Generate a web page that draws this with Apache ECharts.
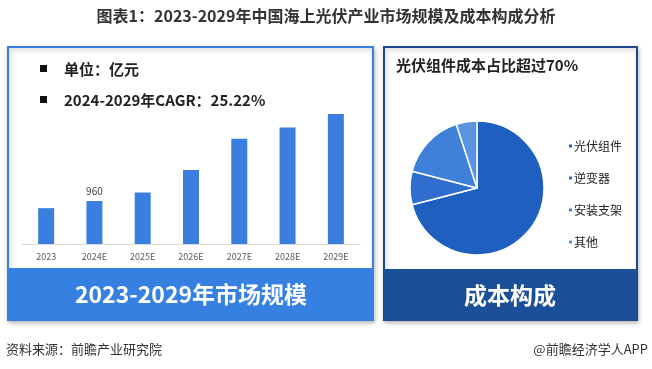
<!DOCTYPE html>
<html>
<head>
<meta charset="utf-8">
<script src="https://cdn.jsdelivr.net/npm/echarts@6/dist/echarts.min.js"></script>
<style>html,body{margin:0;padding:0;background:#fff;}#c{width:652px;height:369px;}</style>
</head>
<body>
<div id="c"></div>
<script>
var years = ['2023','2024E','2025E','2026E','2027E','2028E','2029E'];
var marketSize = [800, 960, 1150, 1650, 2350, 2600, 2900];
var labeledYear = '2024E';
var costNames = ['光伏组件','逆变器','安装支架','其他'];
var costShares = [71, 8, 16, 5];
var costColors = ['#1f5fbf','#2f6ecf','#3f80d9','#5b93e2'];

var FONT = '"Noto Sans CJK SC", "Noto Sans", sans-serif';
var chart = echarts.init(document.getElementById('c'), null, {renderer:'canvas'});

var barData = marketSize.map(function(v,i){
  return {value:v, label:{show: years[i]===labeledYear}};
});

chart.setOption({
  backgroundColor:'#fff',
  animation:false,
  textStyle:{fontFamily:FONT},
  graphic:[
    {type:'text', left:'center', top:8, style:{text:'图表1：2023-2029年中国海上光伏产业市场规模及成本构成分析', fontSize:16, fontWeight:'bold', fill:'#333', fontFamily:FONT}},
    // left panel
    {type:'rect', shape:{x:8,y:47,width:365,height:273}, style:{fill:'#fff', stroke:'#3b7fdc', lineWidth:2, shadowBlur:4, shadowColor:'rgba(0,0,0,0.25)', shadowOffsetX:1, shadowOffsetY:2}, z:-10},
    {type:'rect', shape:{x:8,y:268,width:365,height:52}, style:{fill:'#3580e0'}, z:-5},
    {type:'text', x:191, y:294, style:{text:'2023-2029年市场规模', fontSize:23, fontWeight:'bold', fill:'#fff', align:'center', verticalAlign:'middle', fontFamily:FONT}},
    {type:'rect', shape:{x:40,y:65,width:7,height:7}, style:{fill:'#111'}},
    {type:'text', x:64, y:69, style:{text:'单位：亿元', fontSize:15, fontWeight:'bold', fill:'#222', verticalAlign:'middle', fontFamily:FONT}},
    {type:'rect', shape:{x:40,y:96,width:7,height:7}, style:{fill:'#111'}},
    {type:'text', x:64, y:100, style:{text:'2024-2029年CAGR：25.22%', fontSize:15, fontWeight:'bold', fill:'#222', verticalAlign:'middle', fontFamily:FONT}},
    // right panel
    {type:'rect', shape:{x:384,y:47,width:253,height:273}, style:{fill:'#fff', stroke:'#1d4a8c', lineWidth:2, shadowBlur:4, shadowColor:'rgba(0,0,0,0.25)', shadowOffsetX:1, shadowOffsetY:2}, z:-10},
    {type:'rect', shape:{x:384,y:269,width:253,height:51}, style:{fill:'#1b4f97'}, z:-5},
    {type:'text', x:510, y:295, style:{text:'成本构成', fontSize:23, fontWeight:'bold', fill:'#fff', align:'center', verticalAlign:'middle', fontFamily:FONT}},
    {type:'text', x:396, y:65, style:{text:'光伏组件成本占比超过70%', fontSize:15, fontWeight:'bold', fill:'#222', verticalAlign:'middle', fontFamily:FONT}},
    // footer
    {type:'text', x:6, y:349, style:{text:'资料来源：前瞻产业研究院', fontSize:13, fill:'#333', verticalAlign:'middle', fontFamily:FONT}},
    {type:'text', x:648, y:349, style:{text:'@前瞻经济学人APP', fontSize:13, fill:'#333', align:'right', verticalAlign:'middle', fontFamily:FONT}}
  ],
  grid:{left:22, width:338, top:100, bottom:125},
  xAxis:{type:'category', data:years,
    axisLine:{lineStyle:{color:'#d9d9d9'}}, axisTick:{show:false},
    axisLabel:{color:'#595959', fontSize:9, margin:8}},
  yAxis:{type:'value', min:0, max:3215, show:false, splitLine:{show:false}},
  legend:{orient:'vertical', left:562, top:135, itemGap:20, itemWidth:5, itemHeight:5, icon:'rect',
    data:costNames, textStyle:{fontSize:12, color:'#222', fontFamily:FONT, padding:[0,0,0,-4]}},
  series:[
    {type:'bar', data:barData, barWidth:16, itemStyle:{color:'#3a7fe0'},
      label:{position:'top', color:'#404040', fontSize:10, distance:5}},
    {type:'pie', center:[477,188], radius:[0,67], startAngle:90, clockwise:true,
      label:{show:false}, labelLine:{show:false},
      itemStyle:{borderColor:'#fff', borderWidth:1.5},
      data: costNames.map(function(n,i){return {name:n, value:costShares[i], itemStyle:{color:costColors[i]}};})}
  ]
});
</script>
</body>
</html>
